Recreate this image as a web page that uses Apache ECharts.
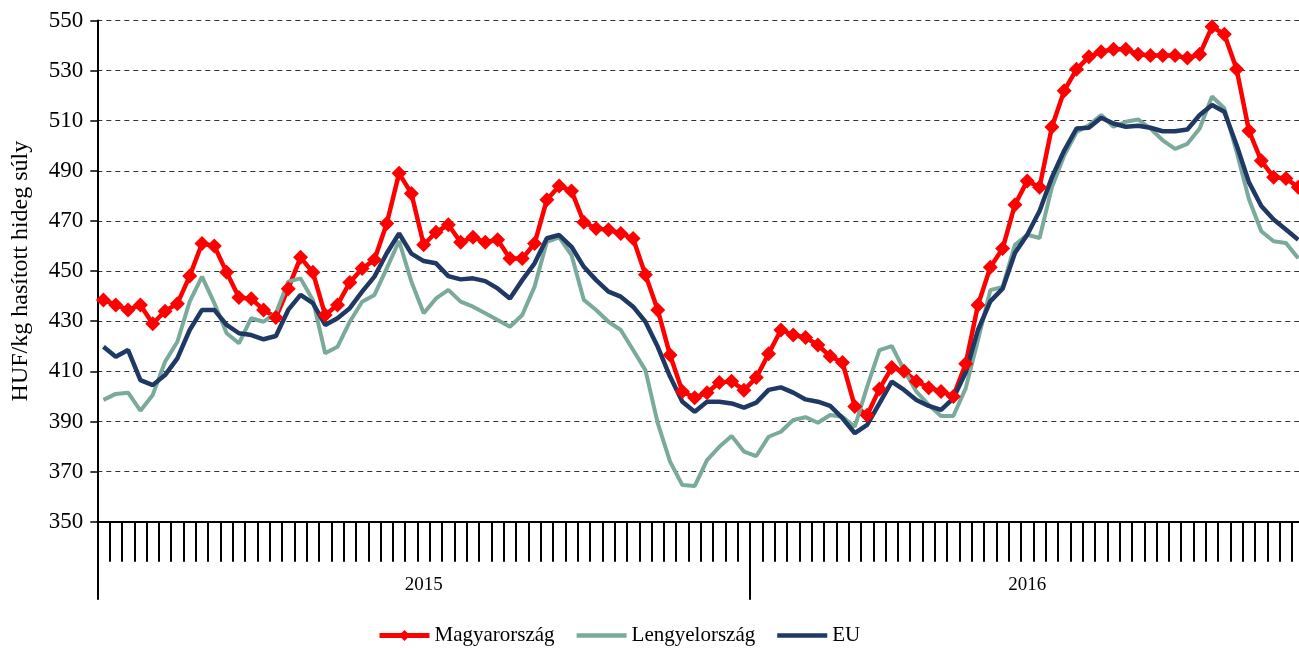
<!DOCTYPE html>
<html>
<head>
<meta charset="utf-8">
<script src="https://cdn.jsdelivr.net/npm/echarts@6/dist/echarts.min.js"></script>
<style>
  html, body { margin: 0; padding: 0; background: #fff; }
  #chart { width: 1299px; height: 648px; }
</style>
</head>
<body>
<div id="chart"></div>
<script>
// weekly prices, HUF/kg hot carcass weight
var years = ["2015", "2016"];
var weeksPerYear = [53, 45];

var magyar = [438.5, 436.5, 434.5, 436.5, 429, 434, 437, 448, 461, 460,
  449.5, 439.5, 439, 434.5, 431.5, 443, 455.5, 449.5, 432.5, 436.5,
  445.5, 451, 454.5, 469, 489, 481, 460.5, 465.5, 468.5, 461.5,
  463.5, 461.5, 462.5, 455, 455, 461, 478.5, 484, 482, 469.5,
  467, 466.5, 465, 463, 448.5, 434.5, 416.5, 402, 399.5, 401.5,
  405.5, 406, 402.5, 407.5, 417, 426.5, 424.5, 423.5, 420.5, 416,
  413.5, 396, 392.5, 403, 411.5, 410, 406, 403.5, 402, 400,
  413, 436.5, 451.5, 459, 476.5, 486, 483.5, 507.5, 522, 530.5,
  535.5, 537.5, 538.5, 538.5, 536.5, 536, 536, 536, 535, 536.5,
  547.5, 544.5, 530.5, 506, 494, 487.5, 487, 483.5];

var lengyel = [398.6, 401, 401.5, 394.3, 400.6, 413.8, 421.8, 437.8, 447.8, 437.2,
  425.2, 421.2, 431.2, 429.8, 433.2, 445.8, 447.1, 438.5, 417.2, 419.8,
  429.8, 437.8, 440.5, 451.1, 462, 445.8, 433.2, 439.1, 442.5, 437.8,
  435.8, 433.2, 430.5, 427.8, 432.5, 443.8, 461.7, 463.5, 456.4, 438.5,
  434.5, 429.8, 426.5, 418.5, 410.5, 389.3, 374, 364.6, 364.2, 374.6,
  379.9, 384.2, 378, 376.2, 383.9, 385.9, 390.6, 391.7, 389.5, 392.6,
  391.9, 387.9, 403.9, 418.5, 420.1, 410.5, 401.9, 396.6, 392.2, 392.2,
  403.2, 422.5, 442.4, 443.7, 460.5, 464.5, 463.2, 483.4, 496.1, 505.5,
  508.2, 512.3, 507.6, 509.6, 510.5, 506.9, 502.2, 498.8, 500.8, 506.9,
  519.7, 515, 497.5, 478.7, 465.9, 461.9, 461.2, 455.1];

var eu = [419.8, 415.8, 418.5, 406.5, 404.5, 408.5, 415.2, 426.5, 434.5, 434.5,
  428.5, 425.2, 424.5, 422.8, 424.1, 434.5, 440.5, 437.2, 428.5, 431.2,
  435.2, 441.8, 447.8, 457.1, 465, 457, 454, 453.1, 448, 446.7,
  447.1, 446, 443.1, 439.1, 446.4, 453.1, 463.1, 464.4, 459.7, 451.7,
  446.4, 441.8, 439.8, 435.8, 429.8, 419.8, 407.9, 397.9, 393.9, 397.9,
  397.9, 397.2, 395.5, 397.5, 402.6, 403.6, 401.5, 398.8, 397.9, 396.2,
  391.3, 385.3, 388.6, 397.2, 405.9, 402.6, 398.6, 396.2, 394.6, 399.2,
  409.5, 426.5, 437.9, 443, 457.2, 464.5, 474, 487.4, 498.1, 506.9,
  507.2, 511.2, 508.9, 507.6, 508, 507.2, 505.8, 505.8, 506.5, 512.3,
  516.3, 513.6, 500.2, 485.4, 476, 470.6, 466.6, 462.5];

// build week categories, remember where each year starts / its middle
var weeks = [];
var yearStart = [];
var yearMid = [];
for (var y = 0; y < years.length; y++) {
  yearStart.push(weeks.length);
  yearMid.push(weeks.length + Math.floor(weeksPerYear[y] / 2));
  for (var w = 1; w <= weeksPerYear[y]; w++) {
    weeks.push(years[y] + "/" + w);
  }
}

var font = "'Liberation Serif', 'Times New Roman', serif";
// thin bar used as legend icon for the plain lines
var barIcon = "path://M0,0 L50,0 L50,4.5 L0,4.5 Z";

var chart = echarts.init(document.getElementById("chart"));

var option = {
  animation: false,
  grid: { left: 97.3, right: -5.4, top: 20.5, bottom: 126.3, outerBoundsMode: "none", containLabel: false },
  legend: {
    top: 620,
    left: 372,
    itemWidth: 50,
    itemHeight: 14,
    itemGap: 22,
    textStyle: { fontFamily: font, fontSize: 21, color: "#000" },
    data: [
      { name: "Magyarország", lineStyle: { width: 5 } },
      { name: "Lengyelország", icon: barIcon },
      { name: "EU", icon: barIcon }
    ]
  },
  xAxis: [
    {
      type: "category",
      data: weeks,
      boundaryGap: true,
      axisLine: { show: true, lineStyle: { color: "#000", width: 2 } },
      axisTick: { show: true, interval: 0, length: 40, lineStyle: { color: "#000", width: 2 } },
      axisLabel: { show: false },
      splitLine: { show: false }
    },
    {
      type: "category",
      data: weeks,
      position: "bottom",
      boundaryGap: true,
      axisLine: { show: false },
      axisTick: {
        show: true,
        length: 78,
        interval: function (idx) { return yearStart.indexOf(idx) >= 0; },
        lineStyle: { color: "#000", width: 2 }
      },
      axisLabel: {
        show: true,
        interval: function (idx) { return yearMid.indexOf(idx) >= 0; },
        formatter: function (val) { return val.split("/")[0]; },
        margin: 54,
        fontFamily: font,
        fontSize: 19,
        color: "#000"
      },
      splitLine: { show: false }
    }
  ],
  yAxis: {
    type: "value",
    min: 350,
    max: 550,
    interval: 20,
    name: "HUF/kg hasított hideg súly",
    nameLocation: "middle",
    nameGap: 65,
    nameTextStyle: { fontFamily: font, fontSize: 24, color: "#000" },
    axisLine: { show: true, lineStyle: { color: "#000", width: 2 } },
    axisTick: { show: true, length: 7, lineStyle: { color: "#000", width: 1.5 } },
    axisLabel: { margin: 14, fontFamily: font, fontSize: 23, color: "#000" },
    splitLine: { show: true, lineStyle: { color: "#333", width: 1, type: [5, 4] } }
  },
  series: [
    {
      name: "Magyarország",
      type: "line",
      data: magyar,
      color: "#ff0000",
      symbol: "diamond",
      symbolSize: 15,
      showAllSymbol: true,
      lineStyle: { width: 4.5, color: "#ff0000" },
      itemStyle: { color: "#ff0000" }
    },
    {
      name: "Lengyelország",
      type: "line",
      data: lengyel,
      color: "#79aa9c",
      symbol: "none",
      lineStyle: { width: 4, color: "#79aa9c" }
    },
    {
      name: "EU",
      type: "line",
      data: eu,
      color: "#1f3864",
      symbol: "none",
      lineStyle: { width: 4.5, color: "#1f3864" }
    }
  ]
};
chart.setOption(option);
</script>
</body>
</html>
